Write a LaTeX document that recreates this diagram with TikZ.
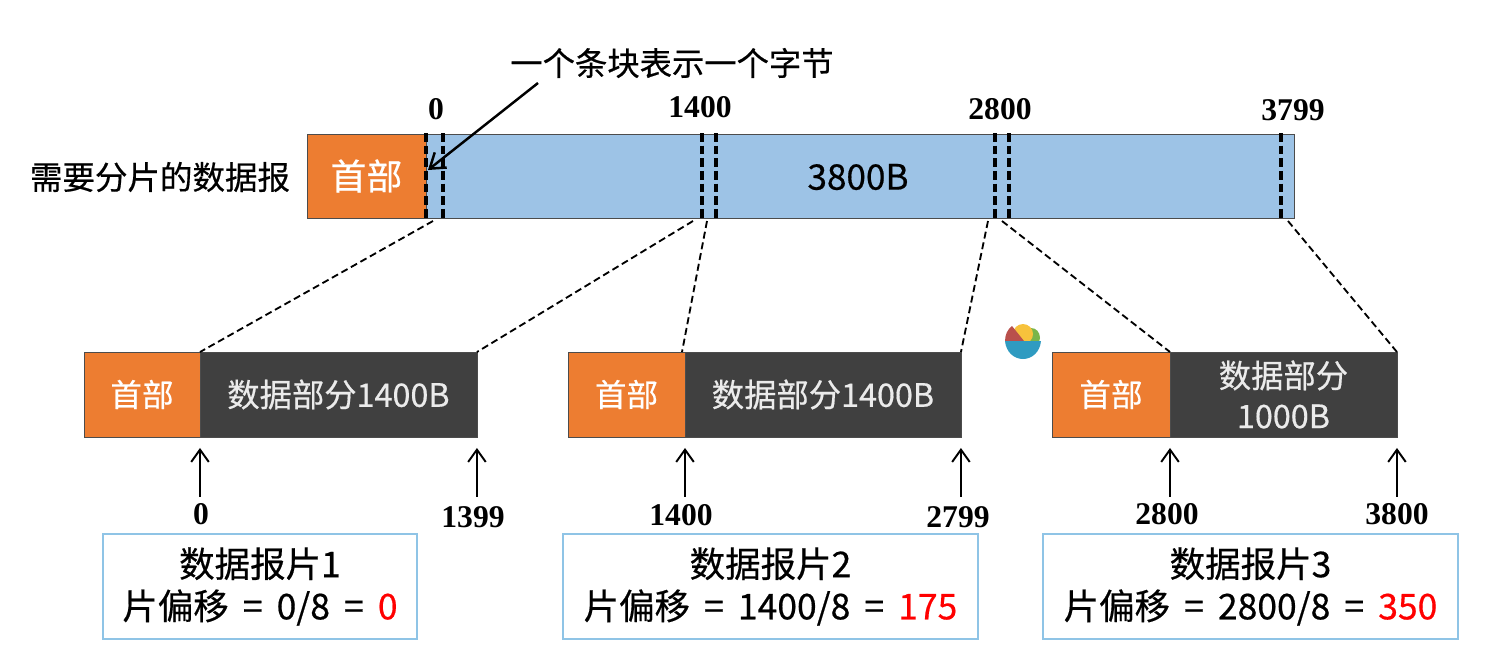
\documentclass[tikz,border=0pt]{standalone}
\usepackage{fontspec}
\setmainfont{Noto Sans CJK SC}
\newfontfamily\numfont{Liberation Serif}
\newfontfamily\medfont[FakeBold=0.5]{Noto Sans CJK SC}
\usetikzlibrary{arrows.meta,calc,positioning}
\definecolor{hdrorange}{HTML}{ED7D31}
\definecolor{barblue}{HTML}{9DC3E6}
\definecolor{datagray}{HTML}{404040}
\definecolor{boxblue}{HTML}{8FC4E6}
\definecolor{bowlblue}{HTML}{2F9BC1}
\definecolor{bowlred}{HTML}{B9504C}
\definecolor{bowlyellow}{HTML}{F7C23C}
\definecolor{bowlgreen}{HTML}{79B54A}
\newcommand{\eqsign}{\hspace{3.5pt} = \hspace{3.5pt}}
\tikzset{
  hdr/.style={draw=black!70,fill=hdrorange,text=white,font=\medfont\fontsize{18}{20}\selectfont,
    inner sep=0pt,outer sep=0pt,minimum height=1.7cm,anchor=north west},
  datapart/.style={draw=black!70,fill=datagray,text=white!92!black,font=\medfont\fontsize{18.4}{23}\selectfont,
    align=center,inner sep=0pt,outer sep=0pt,minimum height=1.7cm,anchor=north west},
  offbox/.style={draw=boxblue,line width=0.8pt,font=\medfont\fontsize{20.2}{24}\selectfont,align=center,
    inner sep=0pt,outer sep=0pt,minimum height=2.1cm,anchor=north west},
  numlabel/.style={font=\numfont\bfseries\fontsize{18}{20}\selectfont,inner sep=0pt},
  bytetick/.style={line width=2.2pt,dash pattern=on 5pt off 2.2pt},
  zoomline/.style={line width=1.05pt,dash pattern=on 4pt off 2.2pt},
  ptr/.style={line width=1.1pt,-{Straight Barb[length=7pt,width=10pt,line width=1.1pt]}},
}
\begin{document}
\begin{tikzpicture}[x=0.02cm,y=-0.02cm]
  \useasboundingbox (0,0) rectangle (1498,657);
  % top datagram
  \node[font=\medfont\fontsize{18.5}{20}\selectfont] (name) at (160,177) {需要分片的数据报};
  \node[draw=black!70,fill=barblue,minimum width=17.38cm,minimum height=1.68cm,inner sep=0pt,
    outer sep=0pt,anchor=north west] (bar) at (426,134) {};
  \node[hdr,minimum width=2.38cm,minimum height=1.68cm,font=\medfont\fontsize{20.4}{22}\selectfont] (top) at (307,134) {首部};
  \node[font=\medfont\fontsize{20}{22}\selectfont] (size) at (858,177) {3800B};
  \foreach \n/\x in {a/426,b/443,c/702,d/716,e/995,f/1009,g/1281} {
    \coordinate (up\n) at (\x,133);
    \coordinate (lo\n) at (\x,219);
    \draw[bytetick] (up\n) -- (lo\n);
  }
  \node[numlabel] (n0) at (436,109) {0};
  \node[numlabel] (n1) at (700,107) {1400};
  \node[numlabel] (n2) at (1000,109) {2800};
  \node[numlabel] (n3) at (1293,110) {3799};
  \node[font=\medfont\fontsize{18.4}{20}\selectfont] (note) at (672,63) {一个条块表示一个字节};
  \coordinate (notefrom) at (538,83);
  \coordinate (noteto) at (428,170);
  \draw[line width=1.4pt,-{Straight Barb[length=8pt,width=11pt,line width=1.4pt]}] (notefrom) -- (noteto);

  % fragments
  \node[hdr,minimum width=2.32cm] (h1) at (84,352) {首部};
  \node[datapart,minimum width=5.54cm] (d1) at (200,352) {数据部分1400B};
  \node[hdr,minimum width=2.34cm] (h2) at (568,352) {首部};
  \node[datapart,minimum width=5.52cm] (d2) at (685,352) {数据部分1400B};
  \node[hdr,minimum width=2.36cm] (h3) at (1052,352) {首部};
  \node[datapart,minimum width=4.54cm] (d3) at (1170,352) {数据部分\\1000B};

  \coordinate (z1) at (433,221);
  \coordinate (z2) at (693,221);
  \coordinate (z3) at (707,221);
  \coordinate (z4) at (988,221);
  \coordinate (z5) at (1002,221);
  \coordinate (z6) at (1288,221);
  \draw[zoomline] (z1) -- (d1.north west);
  \draw[zoomline] (z2) -- (d1.north east);
  \draw[zoomline] (z3) -- ($(d2.north west)+(-3,0)$);
  \draw[zoomline] (z4) -- (d2.north east);
  \draw[zoomline] (z5) -- (d3.north west);
  \draw[zoomline] (z6) -- (d3.north east);

  % offsets below
  \node[numlabel] (s0) at (201,514) {0};
  \node[numlabel] (e0) at (473,517) {1399};
  \node[numlabel] (s1) at (681,515) {1400};
  \node[numlabel] (e1) at (958,517) {2799};
  \node[numlabel] (s2) at (1167,514) {2800};
  \node[numlabel] (e2) at (1397,514) {3800};
  \foreach \t in {d1.south west,d1.south east,d2.south west,d2.south east,d3.south west,d3.south east} {
    \coordinate (tip) at (\t);
    \coordinate (tail) at ($(tip)+(0,60)$);
    \draw[ptr,shorten >=0.22cm] (tail) -- (tip);
  }

  % offset boxes
  \node[offbox,minimum width=6.28cm] (b1) at (103,534) {数据报片1\\片偏移\eqsign 0/8\eqsign\textcolor{red}{0}};
  \node[offbox,minimum width=8.3cm] (b2) at (563,534) {数据报片2\\片偏移\eqsign 1400/8\eqsign\textcolor{red}{175}};
  \node[offbox,minimum width=8.3cm] (b3) at (1043,534) {数据报片3\\片偏移\eqsign 2800/8\eqsign\textcolor{red}{350}};

  % small bowl mark
  \fill[bowlgreen] (1031,328) .. controls (1036,328) and (1040,332) .. (1040,338) -- (1039,342) -- (1028,342) -- cycle;
  \fill[bowlyellow] (1023,334) circle (10);
  \fill[bowlred] (1005,341) .. controls (1005,334) and (1008,329) .. (1012,326) -- (1024,341) -- cycle;
  \fill[bowlblue] (1005,341) -- (1041,341) .. controls (1040,352) and (1032,359) .. (1023,359)
    .. controls (1014,359) and (1006,352) .. (1005,341) -- cycle;
\end{tikzpicture}
\end{document}
